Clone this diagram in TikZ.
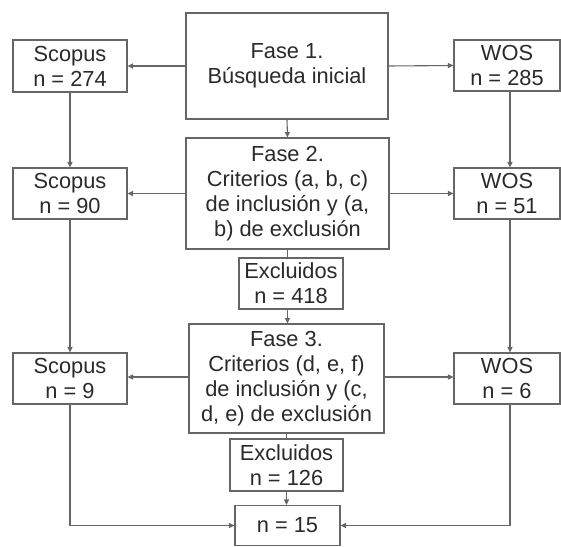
\documentclass[tikz,border=0pt]{standalone}
\usepackage{fontspec}
\setmainfont{Liberation Sans}
\usetikzlibrary{arrows.meta}
\definecolor{ln}{HTML}{666666}
\definecolor{tx}{HTML}{2A2A2A}
\begin{document}
\begin{tikzpicture}[x=1pt,y=-1pt,
  box/.style={draw=ln,line width=1.1pt,fill=white,text=tx,align=center,inner sep=1pt,
    font=\fontsize{21.8}{25.2}\selectfont},
  conn/.style={draw=ln,line width=1.1pt},
  arr/.style={conn,-{Triangle[length=5.5pt,width=5pt]}}]
\useasboundingbox (0,0) rectangle (561,546);
\fill[white] (0,0) rectangle (561,546);
% column boxes
\node[box,minimum width=114pt,minimum height=52pt] (S1) at (70,66) {Scopus\\n = 274};
\node[box,minimum width=202pt,minimum height=106pt] (F1) at (287,66) {Fase 1.\\Búsqueda inicial};
\node[box,minimum width=106pt,minimum height=51pt] (W1) at (507,65.5) {WOS\\n = 285};
\node[box,minimum width=203pt,minimum height=111pt] (F2) at (287.5,193.5) {Fase 2.\\Criterios (a, b, c)\\de inclusión y (a,\\b) de exclusión};
\node[box,minimum width=114pt,minimum height=51pt] (S2) at (70,193.5) {Scopus\\n = 90};
\node[box,minimum width=106pt,minimum height=51pt] (W2) at (507,193.5) {WOS\\n = 51};
\node[box,minimum width=104pt,minimum height=51pt] (E1) at (291,283.5) {Excluidos\\n = 418};
\node[box,minimum width=195pt,minimum height=109pt] (F3) at (286.5,378.5) {Fase 3.\\Criterios (d, e, f)\\de inclusión y (c,\\d, e) de exclusión};
\node[box,minimum width=114pt,minimum height=51pt] (S3) at (70,378.5) {Scopus\\n = 9};
\node[box,minimum width=106pt,minimum height=51pt] (W3) at (507,378.5) {WOS\\n = 6};
\node[box,minimum width=113pt,minimum height=52pt] (E2) at (286.5,465) {Excluidos\\n = 126};
\node[box,minimum width=105pt,minimum height=40pt] (FN) at (287.5,525.5) {n = 15};
% connectors
\draw[arr] (F1.west) -- (S1.east);
\draw[arr] (F1.east) -- (W1.west);
\draw[arr] (F1.south) -- (F2.north);
\draw[arr] (S1.south) -- (S2.north);
\draw[arr] ([xshift=3pt]W1.south) -- ([xshift=3pt]W2.north);
\draw[arr] (F2.west) -- (S2.east);
\draw[arr] (F2.east) -- (W2.west);
\draw[conn] (F2.south) -- (F2.south |- E1.north);
\draw[arr] (F2.south |- E1.south) -- (F2.south |- F3.north);
\draw[arr] (S2.south) -- (S3.north);
\draw[arr] ([xshift=3pt]W2.south) -- ([xshift=3pt]W3.north);
\draw[arr] ([yshift=1.5pt]F3.west) -- ([yshift=1.5pt]F3.west -| S3.east);
\draw[arr] ([yshift=1.5pt]F3.east) -- ([yshift=1.5pt]F3.east -| W3.west);
\draw[conn] (F3.south) -- (F3.south |- E2.north);
\draw[arr] (F3.south |- E2.south) -- (F3.south |- FN.north);
\draw[arr] (S3.south) |- (FN.west);
\draw[arr] ([xshift=3pt]W3.south) |- (FN.east);
\end{tikzpicture}
\end{document}
